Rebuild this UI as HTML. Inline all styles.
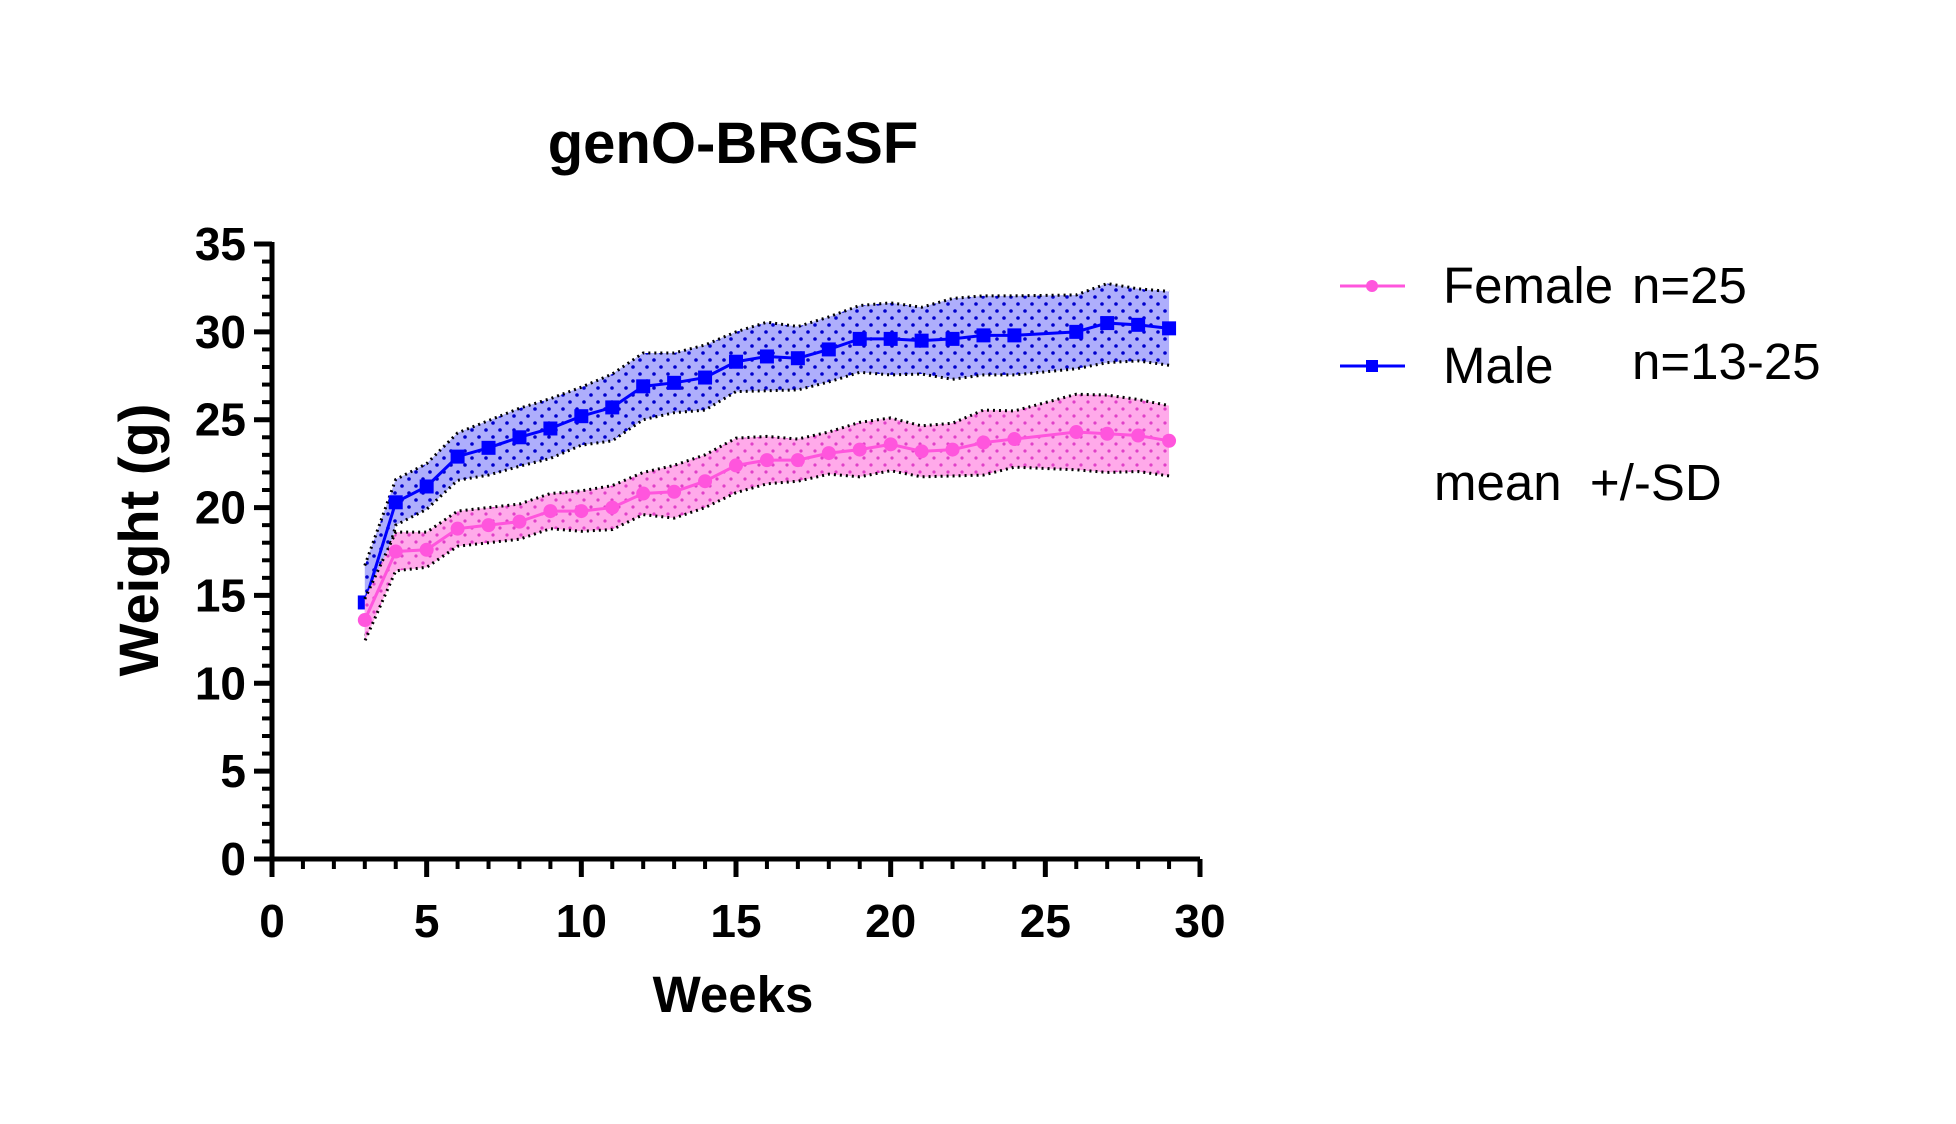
<!DOCTYPE html>
<html><head><meta charset="utf-8"><style>
html,body{margin:0;padding:0;background:#fff;}
svg{display:block;font-family:"Liberation Sans",Arial,sans-serif;}
</style></head><body>
<svg id="chart" width="1956" height="1124" viewBox="0 0 1956 1124" xmlns="http://www.w3.org/2000/svg">
<defs>
<pattern id="dotsF" width="14" height="14" patternUnits="userSpaceOnUse"><circle cx="3" cy="3" r="1.6" fill="#e040c8"/><circle cx="10" cy="10" r="1.6" fill="#e040c8"/></pattern>
<pattern id="dotsM" width="14" height="14" patternUnits="userSpaceOnUse"><circle cx="3" cy="3" r="1.8" fill="#0000cc"/><circle cx="10" cy="10" r="1.8" fill="#0000cc"/></pattern>
</defs>
<text x="733" y="163" font-size="58" font-weight="bold" text-anchor="middle">genO-BRGSF</text>
<g id="plot"></g>
<text transform="translate(158,540) rotate(-90)" font-size="56" font-weight="bold" text-anchor="middle">Weight (g)</text>
<text x="733" y="1012" font-size="51" font-weight="bold" text-anchor="middle">Weeks</text>
<g>
<g>
<line x1="1340" y1="286" x2="1405" y2="286" stroke="#ff55dd" stroke-width="3"/>
<circle cx="1372" cy="286" r="6" fill="#ff55dd"/>
<text x="1443" y="303" font-size="51">Female</text>
<text x="1632" y="303" font-size="51">n=25</text>
</g>
<g>
<line x1="1340" y1="366" x2="1405" y2="366" stroke="#0000ff" stroke-width="3"/>
<rect x="1366" y="360" width="12" height="12" fill="#0000ff"/>
<text x="1443" y="383" font-size="51">Male</text>
<text x="1632" y="379" font-size="51">n=13-25</text>
</g>
<text x="1434" y="500" font-size="51" xml:space="preserve">mean  +/-SD</text>
</g>
</svg>
<script>
const weeks = [3,4,5,6,7,8,9,10,11,12,13,14,15,16,17,18,19,20,21,22,23,24,26,27,28,29];
const femaleMean = [13.6,17.5,17.6,18.8,19.0,19.2,19.8,19.8,20.0,20.8,20.9,21.5,22.4,22.7,22.7,23.1,23.3,23.6,23.2,23.3,23.7,23.9,24.3,24.2,24.1,23.8];
const femaleSD = [1.2,1.1,1.0,1.0,1.0,1.0,1.0,1.15,1.25,1.2,1.5,1.5,1.55,1.35,1.2,1.2,1.55,1.5,1.45,1.5,1.85,1.6,2.15,2.2,2.05,2.0];
const maleMean = [14.6,20.3,21.2,22.9,23.4,24.0,24.5,25.2,25.7,26.9,27.1,27.4,28.3,28.6,28.5,29.0,29.6,29.6,29.5,29.6,29.8,29.8,30.0,30.5,30.4,30.2];
const maleSD = [2.1,1.3,1.3,1.35,1.55,1.65,1.7,1.65,1.9,1.9,1.7,1.85,1.7,1.95,1.8,1.85,1.9,2.05,1.9,2.3,2.25,2.25,2.1,2.25,2.05,2.1];
const xTicks = [0,5,10,15,20,25,30];
const yTicks = [0,5,10,15,20,25,30,35];

const X0=272,X1=1200,Y0=859,Y1=244;
const sx=v=>X0+(v-0)/30*(X1-X0);
const sy=v=>Y0-(v-0)/35*(Y0-Y1);
const NS='http://www.w3.org/2000/svg';
const plot=document.getElementById('plot');
function mk(tag,attrs,parent){const e=document.createElementNS(NS,tag);for(const k in attrs)e.setAttribute(k,attrs[k]);(parent||plot).appendChild(e);return e;}

function series(name,mean,sd,fill,pat,color,marker){
  const g=mk('g',{});
  
  
  const up=weeks.map((w,i)=>sx(w)+','+sy(mean[i]+sd[i]));
  const lo=weeks.map((w,i)=>sx(w)+','+sy(mean[i]-sd[i])).reverse();
  const band=mk('polygon',{points:up.concat(lo).join(' '),fill:fill},g);
  
  
  mk('polygon',{points:up.concat(lo).join(' '),fill:'url(#'+pat+')'},g);
  const e1=mk('polyline',{points:up.join(' '),fill:'none',stroke:'#000','stroke-width':3,'stroke-dasharray':'2 4'},g);
  
  
  const e2=mk('polyline',{points:lo.join(' '),fill:'none',stroke:'#000','stroke-width':3,'stroke-dasharray':'2 4'},g);
  
  
  const ln=mk('polyline',{points:weeks.map((w,i)=>sx(w)+','+sy(mean[i])).join(' '),fill:'none',stroke:color,'stroke-width':3},g);
  
  
  weeks.forEach((w,i)=>{
    let p;
    if(marker==='circle') p=mk('circle',{cx:sx(w),cy:sy(mean[i]),r:7,fill:color},g);
    else p=mk('rect',{x:sx(w)-7,y:sy(mean[i])-7,width:14,height:14,fill:color},g);
    
    
  });
}
series('male',maleMean,maleSD,'#aeaefc','dotsM','#0000ff','square');
series('female',femaleMean,femaleSD,'#ffaaea','dotsF','#ff55dd','circle');

const ax=mk('g',{});


mk('line',{x1:X0,y1:Y0,x2:X1,y2:Y0,stroke:'#000','stroke-width':5},ax);
mk('line',{x1:X0,y1:Y0+2,x2:X0,y2:Y1-2,stroke:'#000','stroke-width':5},ax);
for(let v=0;v<=35;v++){const major=v%5===0;mk('line',{x1:X0,y1:sy(v),x2:X0-(major?18:10),y2:sy(v),stroke:'#000','stroke-width':major?5:4},ax);}
for(let v=0;v<=30;v++){const major=v%5===0;mk('line',{x1:sx(v),y1:Y0,x2:sx(v),y2:Y0+(major?18:10),stroke:'#000','stroke-width':major?5:4},ax);}
yTicks.forEach(v=>{const t=mk('text',{x:X0-26,y:sy(v)+16,'font-size':46,'font-weight':'bold','text-anchor':'end'},ax);t.textContent=v;
  
  });
xTicks.forEach(v=>{const t=mk('text',{x:sx(v),y:937,'font-size':46,'font-weight':'bold','text-anchor':'middle'},ax);t.textContent=v;
  
  });
</script>
</body></html>
